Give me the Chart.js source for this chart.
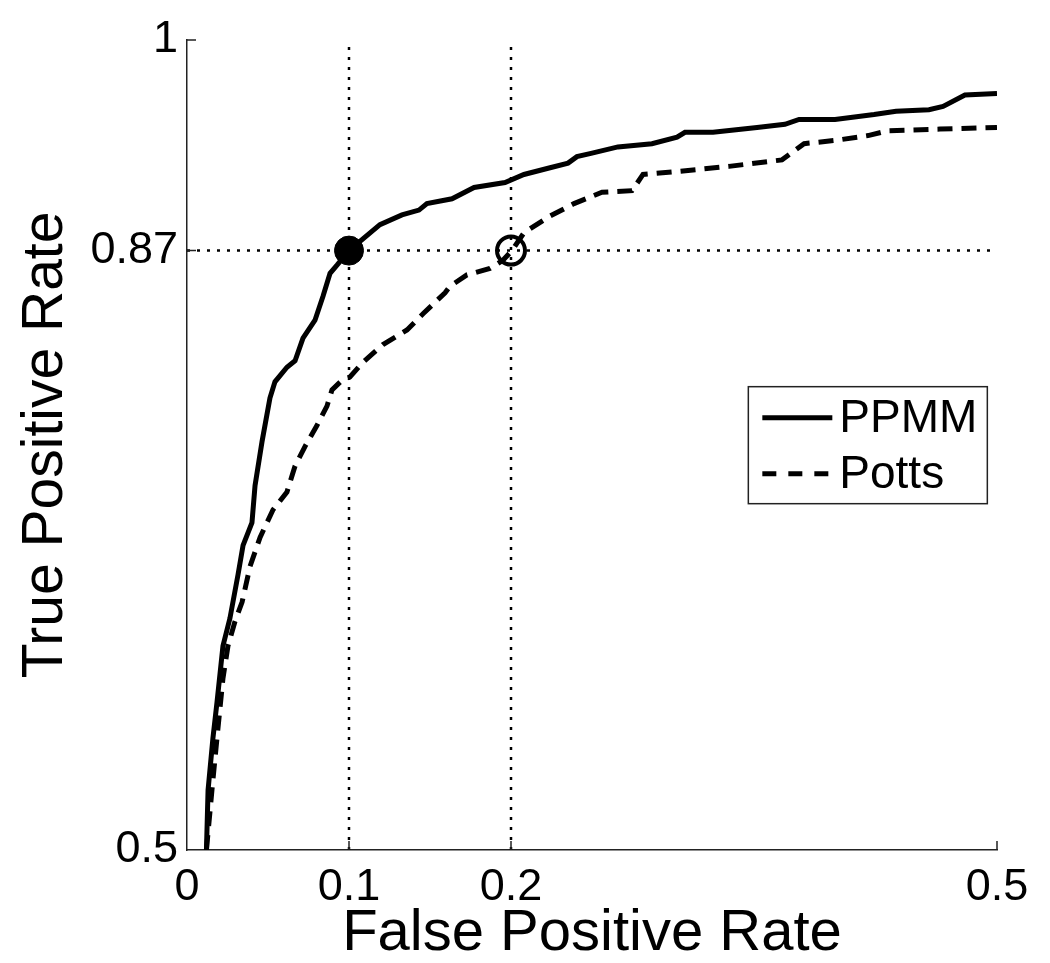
<!DOCTYPE html>
<html>
<head>
<meta charset="utf-8">
<script src="https://cdn.jsdelivr.net/npm/chart.js@4.4.1/dist/chart.umd.min.js"></script>
<style>
  html, body { margin: 0; padding: 0; background: #fff; }
  #wrap { width: 1050px; height: 963px; }
</style>
</head>
<body>
<div id="wrap"><canvas id="roc" width="1050" height="963"></canvas></div>
<script>
// ROC curves
const ppmmFpr = [0.012, 0.013, 0.016, 0.0185, 0.0222, 0.0265, 0.0315, 0.0346, 0.0401, 0.042, 0.0463, 0.0512, 0.0543, 0.0617, 0.0667, 0.0716, 0.079, 0.084, 0.0883, 0.0926, 0.1, 0.1191, 0.1327, 0.1432, 0.1481, 0.1636, 0.1772, 0.1963, 0.208, 0.2235, 0.2352, 0.2407, 0.2494, 0.266, 0.287, 0.3025, 0.3074, 0.3247, 0.3519, 0.3691, 0.3778, 0.4, 0.4241, 0.4377, 0.458, 0.4667, 0.4802, 0.5];
const ppmmTpr = [0.5, 0.537, 0.569, 0.591, 0.626, 0.643, 0.670, 0.688, 0.702, 0.725, 0.752, 0.779, 0.789, 0.798, 0.802, 0.816, 0.827, 0.842, 0.856, 0.861, 0.870, 0.886, 0.892, 0.895, 0.899, 0.902, 0.909, 0.912, 0.917, 0.921, 0.924, 0.928, 0.930, 0.934, 0.936, 0.940, 0.943, 0.943, 0.946, 0.948, 0.951, 0.951, 0.954, 0.956, 0.957, 0.959, 0.966, 0.967];

const pottsFpr = [0.012, 0.0154, 0.0185, 0.0222, 0.0253, 0.0296, 0.034, 0.0389, 0.0451, 0.0531, 0.0617, 0.0667, 0.0728, 0.0802, 0.0864, 0.0895, 0.0957, 0.1006, 0.1086, 0.121, 0.1358, 0.1457, 0.1593, 0.1623, 0.1728, 0.187, 0.195, 0.2006, 0.208, 0.2235, 0.2389, 0.2562, 0.2747, 0.2815, 0.3043, 0.3346, 0.3673, 0.3809, 0.4, 0.4204, 0.4327, 0.4648, 0.5];
const pottsTpr = [0.5, 0.537, 0.569, 0.606, 0.626, 0.641, 0.653, 0.675, 0.693, 0.710, 0.721, 0.737, 0.749, 0.762, 0.774, 0.784, 0.790, 0.792, 0.801, 0.812, 0.821, 0.831, 0.844, 0.848, 0.855, 0.859, 0.864, 0.870, 0.881, 0.891, 0.899, 0.906, 0.907, 0.917, 0.919, 0.922, 0.926, 0.936, 0.938, 0.941, 0.944, 0.945, 0.946];

// operating points and the dotted guides through them
const markFpr = [0.1, 0.2];
const markTpr = [0.87, 0.87];
const guideX = [0.1, 0.2];
const guideY = [0.87];

const xTicks = [0, 0.1, 0.2, 0.5];
const yTicks = [0.5, 0.87, 1];
const xRange = [0, 0.5];
const yRange = [0.5, 1];

const seriesNames = ['PPMM', 'Potts'];

const FONT = "'Liberation Sans', Arial, Helvetica, sans-serif";

function toPoints(xs, ys) {
    return xs.map((x, i) => ({ x: x, y: ys[i] }));
}

const guideSets = [];
guideX.forEach(g => {
    guideSets.push({
        data: [{ x: g, y: yRange[0] }, { x: g, y: yRange[1] }],
        borderColor: '#000', borderWidth: 2.5, borderDash: [3, 7],
        pointRadius: 0, showLine: true, order: 3
    });
});
guideY.forEach(g => {
    guideSets.push({
        data: [{ x: xRange[0], y: g }, { x: xRange[1], y: g }],
        borderColor: '#000', borderWidth: 2.5, borderDash: [3, 7],
        pointRadius: 0, showLine: true, order: 3
    });
});

// inward tick marks, MATLAB style
const innerTicks = {
    id: 'innerTicks',
    afterDatasetsDraw(chart) {
        const { ctx, chartArea, scales } = chart;
        const len = 9;
        ctx.save();
        ctx.strokeStyle = '#222';
        ctx.lineWidth = 1.5;
        ctx.beginPath();
        xTicks.forEach(v => {
            if (v === xRange[0]) return;
            const px = scales.x.getPixelForValue(v);
            ctx.moveTo(px, chartArea.bottom);
            ctx.lineTo(px, chartArea.bottom - len);
        });
        yTicks.forEach(v => {
            if (v === yRange[0]) return;
            const py = scales.y.getPixelForValue(v);
            ctx.moveTo(chartArea.left, py);
            ctx.lineTo(chartArea.left + len, py);
        });
        ctx.stroke();
        ctx.restore();
    }
};

// boxed legend inside the plot area
const boxLegend = {
    id: 'boxLegend',
    afterDraw(chart) {
        const { ctx, chartArea } = chart;
        const w = chartArea.right - chartArea.left;
        const h = chartArea.bottom - chartArea.top;
        const bx = chartArea.left + w * 0.693;
        const by = chartArea.top + h * 0.428;
        const bw = 239, bh = 117;
        ctx.save();
        ctx.fillStyle = '#fff';
        ctx.fillRect(bx, by, bw, bh);
        ctx.strokeStyle = '#222';
        ctx.lineWidth = 1.5;
        ctx.strokeRect(bx, by, bw, bh);
        ctx.font = '46px ' + FONT;
        ctx.textBaseline = 'middle';
        ctx.fillStyle = '#000';
        [0, 1].forEach(i => {
            const ds = chart.data.datasets[i];
            const y = by + 31 + i * 56;
            ctx.beginPath();
            ctx.strokeStyle = '#000';
            ctx.lineWidth = ds.borderWidth;
            ctx.setLineDash(ds.borderDash ? [14, 12] : []);
            ctx.moveTo(bx + 14, y);
            ctx.lineTo(bx + 84, y);
            ctx.stroke();
            ctx.setLineDash([]);
            ctx.fillText(seriesNames[i], bx + 91, y + 2);
        });
        ctx.restore();
    }
};

const ctx = document.getElementById('roc').getContext('2d');
const chart = new Chart(ctx, {
    type: 'scatter',
    data: {
        datasets: [
            {
                label: seriesNames[0],
                data: toPoints(ppmmFpr, ppmmTpr),
                borderColor: '#000', borderWidth: 5,
                pointRadius: 0, showLine: true, order: 2
            },
            {
                label: seriesNames[1],
                data: toPoints(pottsFpr, pottsTpr),
                borderColor: '#000', borderWidth: 5, borderDash: [15, 9],
                pointRadius: 0, showLine: true, order: 2
            },
            ...guideSets,
            {
                label: 'PPMM point',
                data: [{ x: markFpr[0], y: markTpr[0] }],
                pointRadius: 14.5, pointBackgroundColor: '#000', pointBorderColor: '#000',
                pointBorderWidth: 1, showLine: false, order: 1
            },
            {
                label: 'Potts point',
                data: [{ x: markFpr[1], y: markTpr[1] }],
                pointRadius: 14, pointBackgroundColor: 'rgba(255,255,255,0)', pointBorderColor: '#000',
                pointBorderWidth: 4, showLine: false, order: 1
            }
        ]
    },
    options: {
        responsive: false,
        animation: false,
        layout: { padding: { left: 0, right: 53, top: 40, bottom: 0 } },
        plugins: {
            legend: { display: false },
            tooltip: { enabled: false }
        },
        scales: {
            x: {
                type: 'linear',
                min: xRange[0], max: xRange[1],
                grid: { display: false, drawTicks: false },
                border: { display: true, color: '#222', width: 1.5 },
                afterBuildTicks: s => { s.ticks = xTicks.map(v => ({ value: v })); },
                afterFit: s => { s.height = 113; },
                ticks: {
                    color: '#000', padding: 11, autoSkip: false, maxRotation: 0,
                    font: { family: FONT, size: 45 },
                    callback: v => String(v)
                },
                title: {
                    display: true, text: 'False Positive Rate', color: '#000',
                    font: { family: FONT, size: 58, lineHeight: 1 },
                    padding: { top: 0, bottom: 0 }
                }
            },
            y: {
                type: 'linear',
                min: yRange[0], max: yRange[1],
                grid: { display: false, drawTicks: false },
                border: { display: true, color: '#222', width: 1.5 },
                afterBuildTicks: s => { s.ticks = yTicks.map(v => ({ value: v })); },
                afterFit: s => { s.width = 187; },
                ticks: {
                    color: '#000', padding: 9, autoSkip: false,
                    font: { family: FONT, size: 45 },
                    callback: v => String(v)
                },
                title: {
                    display: true, text: 'True Positive Rate', color: '#000',
                    font: { family: FONT, size: 57, lineHeight: 1 },
                    padding: { top: 18, bottom: 0 }
                }
            }
        }
    },
    plugins: [innerTicks, boxLegend]
});
</script>
</body>
</html>
